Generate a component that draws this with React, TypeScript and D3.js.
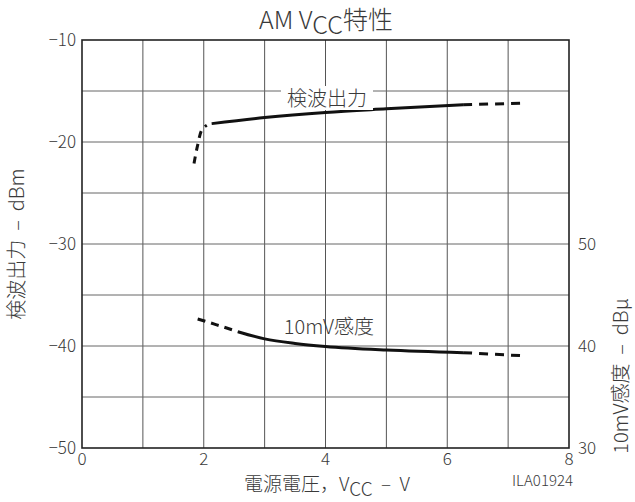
import React from "react";
import * as d3 from "d3";

const W = 635;
const H = 502;
const margin = { left: 82, right: 66, top: 40, bottom: 54 };

const xTicks = [0, 2, 4, 6, 8];
const yLeftTicks = [-10, -20, -30, -40, -50];
const yRightTicks = [30, 40, 50];

// 検波出力 (dBm)
const outDashA_x = [1.84, 1.9, 1.97, 2.05];
const outDashA_y = [-22.1, -20.3, -18.8, -18.35];
const outSolid_x = [2.13, 3, 4, 5, 6.26];
const outSolid_y = [-18.2, -17.6, -17.1, -16.75, -16.35];
const outDashB_x = [6.26, 7.22];
const outDashB_y = [-16.35, -16.2];

// 10mV感度 (dBμ)
const sensDashA_x = [1.9, 2.2, 2.56];
const sensDashA_y = [42.65, 42.1, 41.4];
const sensSolid_x = [2.56, 3, 3.5, 4, 5, 6.26];
const sensSolid_y = [41.4, 40.7, 40.25, 39.95, 39.6, 39.35];
const sensDashB_x = [6.26, 7.22];
const sensDashB_y = [39.35, 39.05];

const zip = (xs: number[], ys: number[]) => xs.map((x, i) => [x, ys[i]] as [number, number]);

export default function App() {
  const x = d3.scaleLinear().domain([0, 8]).range([margin.left, W - margin.right]);
  const y = d3.scaleLinear().domain([-50, -10]).range([H - margin.bottom, margin.top]);
  const yR = d3.scaleLinear().domain([30, 70]).range([H - margin.bottom, margin.top]);

  const lineL = d3.line<[number, number]>().x((d) => x(d[0])).y((d) => y(d[1])).curve(d3.curveMonotoneX);
  const lineR = d3.line<[number, number]>().x((d) => x(d[0])).y((d) => yR(d[1])).curve(d3.curveMonotoneX);
  const lineLRaw = d3.line<[number, number]>().x((d) => x(d[0])).y((d) => y(d[1])).curve(d3.curveCatmullRom);

  const gridX = d3.range(1, 8);
  const gridY = d3.range(-45, -10, 5);
  const font = "'Noto Sans CJK JP', 'Noto Sans', sans-serif";
  const textColor = "#3a3a3a";

  return (
    <svg width={W} height={H} style={{ position: "absolute", left: 0, top: 0 }} fontFamily={font} fontWeight={300}>
      <rect width={W} height={H} fill="#fff" />
      {gridX.map((v) => (
        <line key={"gx" + v} x1={x(v)} x2={x(v)} y1={y(-10)} y2={y(-50)} stroke="#555" strokeWidth={1} />
      ))}
      {gridY.map((v) => (
        <line key={"gy" + v} x1={x(0)} x2={x(8)} y1={y(v)} y2={y(v)} stroke="#666" strokeWidth={1} />
      ))}
      <rect x={x(0)} y={y(-10)} width={x(8) - x(0)} height={y(-50) - y(-10)} fill="none" stroke="#222" strokeWidth={1.6} />

      {/* curves */}
      <path d={lineLRaw(zip(outDashA_x, outDashA_y)) || ""} fill="none" stroke="#111" strokeWidth={3} strokeDasharray="7,6" />
      <path d={lineL(zip(outSolid_x, outSolid_y)) || ""} fill="none" stroke="#111" strokeWidth={3} />
      <path d={lineL(zip(outDashB_x, outDashB_y)) || ""} fill="none" stroke="#111" strokeWidth={3} strokeDasharray="9,7" />

      <path d={lineR(zip(sensDashA_x, sensDashA_y)) || ""} fill="none" stroke="#111" strokeWidth={3} strokeDasharray="8,6" />
      <path d={lineR(zip(sensSolid_x, sensSolid_y)) || ""} fill="none" stroke="#111" strokeWidth={3} />
      <path d={lineR(zip(sensDashB_x, sensDashB_y)) || ""} fill="none" stroke="#111" strokeWidth={3} strokeDasharray="9,7" />

      {/* curve labels */}
      <rect x={281} y={86} width={92} height={24} fill="#fff" />
      <text x={327} y={106} textAnchor="middle" fontSize={20} fill={textColor}>検波出力</text>
      <text x={329} y={334} textAnchor="middle" fontSize={20} fill={textColor}>10mV感度</text>

      {/* left ticks */}
      {yLeftTicks.map((v) => (
        <text key={"yl" + v} x={76} y={y(v)} dy="0.35em" textAnchor="end" fontSize={17} fill={textColor}>
          {"−" + Math.abs(v)}
        </text>
      ))}
      {yRightTicks.map((v) => (
        <text key={"yr" + v} x={578} y={yR(v)} dy="0.35em" textAnchor="start" fontSize={17} fill={textColor}>
          {v}
        </text>
      ))}
      {xTicks.map((v) => (
        <text key={"xt" + v} x={x(v)} y={465} textAnchor="middle" fontSize={17} fill={textColor}>
          {v}
        </text>
      ))}

      {/* title */}
      <text x={326} y={29} textAnchor="middle" fontSize={25} fill={textColor}>
        AM V<tspan dy={5}>CC</tspan><tspan dy={-5}>特性</tspan>
      </text>

      {/* axis titles */}
      <text x={327} y={491} textAnchor="middle" fontSize={19} fill={textColor} xmlSpace="preserve">
        {"電源電圧，V"}<tspan dy={5}>CC</tspan><tspan dy={-5}>{"  –  V"}</tspan>
      </text>
      <text x={573} y={486} textAnchor="end" fontSize={15} fill={textColor}>ILA01924</text>
      <text transform={`translate(24, ${y(-30)}) rotate(-90)`} textAnchor="middle" fontSize={20} fill={textColor} xmlSpace="preserve">
        {"検波出力  –  dBm"}
      </text>
      <text transform={`translate(628, 376) rotate(-90)`} textAnchor="middle" fontSize={20} fill={textColor} xmlSpace="preserve">
        {"10mV感度  –  dBμ"}
      </text>
    </svg>
  );
}
